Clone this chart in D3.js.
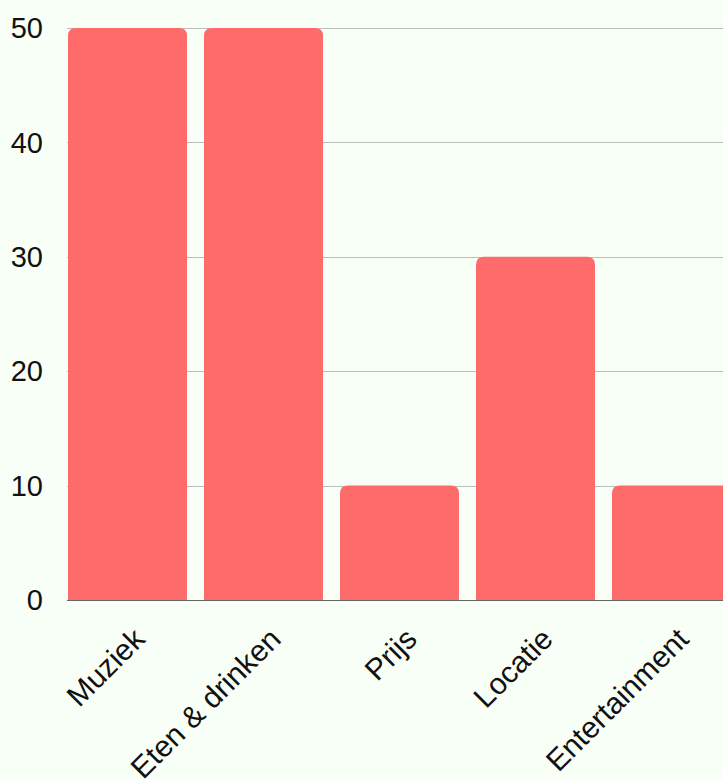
<!DOCTYPE html>
<html>
<head>
<meta charset="utf-8">
<script src="https://cdn.jsdelivr.net/npm/d3@7"></script>
<style>
  html, body { margin: 0; padding: 0; background: #f7fff7; overflow: hidden; }
  svg { display: block; font-family: "Liberation Sans", Arial, sans-serif; }
</style>
</head>
<body>
<svg id="chart" width="723" height="779"></svg>
<script>
const categories = ["Muziek", "Eten & drinken", "Prijs", "Locatie", "Entertainment"];
const values = [50, 50, 10, 30, 10];
const yTicks = [0, 10, 20, 30, 40, 50];

const svg = d3.select("#chart");
const W = 723, H = 779;
const plotLeft = 67, plotBottom = 600, plotTop = 28;

const x = d3.scaleBand()
  .domain(categories)
  .range([68, 731])
  .paddingInner(0.125)
  .paddingOuter(0);

const y = d3.scaleLinear()
  .domain([0, 50])
  .range([plotBottom, plotTop]);

// horizontal grid lines
svg.append("g")
  .selectAll("line")
  .data(yTicks.filter(d => d > 0))
  .join("line")
  .attr("x1", plotLeft)
  .attr("x2", W)
  .attr("y1", d => Math.round(y(d)) + 0.5)
  .attr("y2", d => Math.round(y(d)) + 0.5)
  .attr("stroke", "#bdbdbd")
  .attr("stroke-width", 1);

// y tick labels
svg.append("g")
  .selectAll("text")
  .data(yTicks)
  .join("text")
  .attr("x", 43)
  .attr("y", d => y(d))
  .attr("dy", "0.35em")
  .attr("text-anchor", "end")
  .attr("font-size", 29)
  .attr("fill", "#111")
  .text(d => d);

// bars with rounded top corners
const r = 8;
function barPath(x0, w, yTop, yBase) {
  const rr = Math.min(r, w / 2, (yBase - yTop));
  return `M${x0},${yBase}` +
    `V${yTop + rr}` +
    `Q${x0},${yTop} ${x0 + rr},${yTop}` +
    `H${x0 + w - rr}` +
    `Q${x0 + w},${yTop} ${x0 + w},${yTop + rr}` +
    `V${yBase}Z`;
}

svg.append("g")
  .selectAll("path")
  .data(categories.map((c, i) => ({ c, v: values[i] })))
  .join("path")
  .attr("d", d => barPath(x(d.c), x.bandwidth(), y(d.v), y(0)))
  .attr("fill", "#ff6b6b");

// baseline
svg.append("line")
  .attr("x1", plotLeft)
  .attr("x2", W)
  .attr("y1", plotBottom + 0.5)
  .attr("y2", plotBottom + 0.5)
  .attr("stroke", "#666")
  .attr("stroke-width", 1);

// rotated category labels
svg.append("g")
  .selectAll("text")
  .data(categories)
  .join("text")
  .attr("transform", d => `translate(${x(d) + x.bandwidth() / 2 + 19},${641}) rotate(-45)`)
  .attr("text-anchor", "end")
  .attr("font-size", 30)
  .attr("fill", "#111")
  .text(d => d);
</script>
</body>
</html>
